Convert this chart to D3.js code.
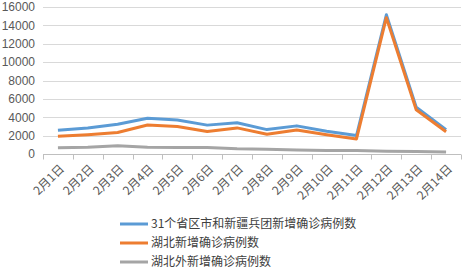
<!DOCTYPE html>
<html>
<head>
<meta charset="utf-8">
<script src="https://d3js.org/d3.v7.min.js"></script>
<style>
body { margin: 0; background: #fff; }
svg { font-family: "Microsoft YaHei", "Noto Sans CJK SC", sans-serif; }
.grid line { stroke: #d9d9d9; stroke-width: 1; }
.tick text { fill: #595959; }
.legend text { fill: #404040; font-size: 12px; }
</style>
</head>
<body>
<svg id="chart"></svg>
<script>
var days = ["2月1日","2月2日","2月3日","2月4日","2月5日","2月6日","2月7日","2月8日","2月9日","2月10日","2月11日","2月12日","2月13日","2月14日"];
var national = [2590,2829,3235,3887,3694,3143,3399,2656,3062,2478,2015,15152,5090,2641];
var hubei = [1921,2103,2345,3156,2987,2447,2841,2147,2618,2097,1638,14840,4823,2420];
var outside = [669,726,890,731,707,696,558,509,444,381,377,312,267,221];
var yTicks = [0,2000,4000,6000,8000,10000,12000,14000,16000];

var series = [
  {name: "31个省区市和新疆兵团新增确诊病例数", values: national, color: "#5b9bd5"},
  {name: "湖北新增确诊病例数", values: hubei, color: "#ed7d31"},
  {name: "湖北外新增确诊病例数", values: outside, color: "#a5a5a5"}
];

var width = 469, height = 278;
var plotLeft = 43, plotRight = 461, plotTop = 7, plotBottom = 154;

var svg = d3.select("#chart").attr("width", width).attr("height", height);

var x = d3.scaleBand().domain(days).range([plotLeft, plotRight]);
var y = d3.scaleLinear().domain([0,16000]).range([plotBottom, plotTop]);

// gridlines
svg.append("g").attr("class","grid")
  .selectAll("line").data(yTicks.slice(1)).enter().append("line")
  .attr("x1", plotLeft).attr("x2", plotRight)
  .attr("y1", function(d){ return Math.round(y(d)) + 0.5; })
  .attr("y2", function(d){ return Math.round(y(d)) + 0.5; });

// y axis labels
var yAxis = svg.append("g")
  .attr("transform","translate(" + plotLeft + ",0)")
  .call(d3.axisLeft(y).tickValues(yTicks).tickFormat(d3.format("d")).tickSize(0).tickPadding(8));
yAxis.select(".domain").remove();
yAxis.selectAll("text").style("font-size","12px").style("font-family","'Liberation Sans', Arial, sans-serif");

// x axis
var xAxis = svg.append("g").attr("transform","translate(0," + (Math.round(plotBottom) + 0.5) + ")");
xAxis.append("line").attr("x1", plotLeft).attr("x2", plotRight).attr("stroke","#bfbfbf");
xAxis.selectAll(".tk").data(days.concat(["end"])).enter().append("line")
  .attr("x1", function(d,i){ return Math.round(plotLeft + i*x.bandwidth()) + 0.5; })
  .attr("x2", function(d,i){ return Math.round(plotLeft + i*x.bandwidth()) + 0.5; })
  .attr("y1", 0).attr("y2", 5).attr("stroke","#bfbfbf");
xAxis.selectAll("text").data(days).enter().append("text")
  .attr("transform", function(d){ return "translate(" + (x(d) + x.bandwidth()/2 + 4) + ",12) rotate(-45)"; })
  .attr("text-anchor","end")
  .attr("dy","0.35em")
  .attr("fill","#595959")
  .style("font-size","12px")
  .text(function(d){ return d; });

// lines
var line = d3.line()
  .x(function(d,i){ return x(days[i]) + x.bandwidth()/2; })
  .y(function(d){ return y(d); });

svg.selectAll(".series").data(series).enter().append("path")
  .attr("class","series")
  .attr("d", function(s){ return line(s.values); })
  .attr("fill","none")
  .attr("stroke", function(s){ return s.color; })
  .attr("stroke-width", 3)
  .attr("stroke-linejoin","round");

// legend
var legend = svg.append("g").attr("class","legend")
  .selectAll("g").data(series).enter().append("g")
  .attr("transform", function(d,i){ return "translate(120," + (224 + i*19) + ")"; });
legend.append("line").attr("x1",0).attr("x2",28).attr("y1",0).attr("y2",0)
  .attr("stroke", function(d){ return d.color; }).attr("stroke-width",3);
legend.append("text").attr("x",31).attr("dy","0.35em")
  .text(function(d){ return d.name; });
</script>
</body>
</html>
